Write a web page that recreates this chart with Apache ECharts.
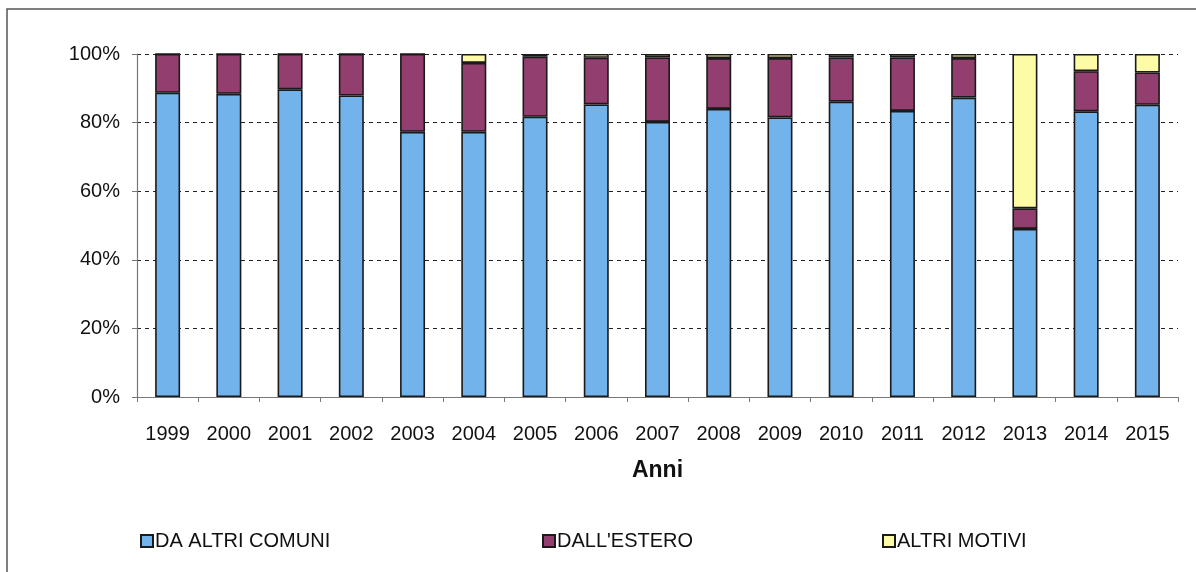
<!DOCTYPE html>
<html>
<head>
<meta charset="utf-8">
<script src="https://cdn.jsdelivr.net/npm/echarts@6/dist/echarts.min.js"></script>
<style>html,body{margin:0;padding:0;background:#fff;}#c{width:1196px;height:572px;}</style>
</head>
<body>
<div id="c"></div>
<script>
const years = ['1999','2000','2001','2002','2003','2004','2005','2006','2007','2008','2009','2010','2011','2012','2013','2014','2015'];
const daAltriComuni = [88.7, 88.4, 89.7, 87.9, 77.3, 77.3, 81.7, 85.3, 80.2, 84.0, 81.5, 86.1, 83.4, 87.3, 49.0, 83.3, 85.2];
const dallEstero    = [11.3, 11.6, 10.3, 12.1, 22.7, 20.1, 17.5, 13.6, 18.8, 14.8, 17.3, 12.9, 15.6, 11.5, 6.0, 11.7, 9.4];
const altriMotivi   = [0, 0, 0, 0, 0, 2.6, 0.8, 1.1, 1.0, 1.2, 1.2, 1.0, 1.0, 1.2, 45.0, 5.0, 5.4];
const yTicks = [0, 20, 40, 60, 80, 100];

const font = 'Liberation Sans, Arial, sans-serif';
const chart = echarts.init(document.getElementById('c'), null, {renderer: 'canvas'});
function bar(name, data, color) {
  return {
    name: name, type: 'bar', stack: 'tot', data: data, barWidth: 25,
    itemStyle: {color: color, borderColor: '#1a1a1a', borderWidth: 1.6},
    emphasis: {disabled: true}
  };
}
function legend(name, left) {
  return {
    data: [name], left: left, top: 526, itemWidth: 12, itemHeight: 12, itemGap: 0,
    icon: 'rect', selectedMode: false,
    textStyle: {fontFamily: font, fontSize: 20, color: '#111', padding: [0,0,0,-3]}
  };
}
chart.setOption({
  animation: false,
  backgroundColor: '#fff',
  graphic: [{
    type: 'rect', shape: {x: 7, y: 9, width: 1400, height: 800},
    style: {fill: 'none', stroke: '#555', lineWidth: 1.5}, silent: true, z: -1
  }],
  grid: {left: 137, right: 18, top: 54, bottom: 175, containLabel: false},
  legend: [
    legend('DA ALTRI COMUNI', 135),
    legend("DALL'ESTERO", 537),
    legend('ALTRI MOTIVI', 877)
  ],
  xAxis: {
    type: 'category', data: years, boundaryGap: true,
    name: 'Anni', nameLocation: 'middle', nameGap: 62,
    nameTextStyle: {fontFamily: font, fontSize: 23, fontWeight: 'bold', color: '#111'},
    axisLine: {lineStyle: {color: '#777', width: 1.2}},
    axisTick: {show: true, length: 5, lineStyle: {color: '#777'}},
    axisLabel: {fontFamily: font, fontSize: 20, color: '#111', margin: 27}
  },
  yAxis: {
    type: 'value', min: yTicks[0], max: yTicks[yTicks.length-1], interval: 20,
    axisLine: {show: true, lineStyle: {color: '#777', width: 1.2}},
    axisTick: {show: true, length: 5, lineStyle: {color: '#777'}},
    axisLabel: {fontFamily: font, fontSize: 20, color: '#111', margin: 17, formatter: '{value}%'},
    splitLine: {show: true, lineStyle: {color: '#222', type: [4, 4], width: 1}}
  },
  series: [
    bar('DA ALTRI COMUNI', daAltriComuni, '#72b3eb'),
    bar("DALL'ESTERO", dallEstero, '#923f70'),
    bar('ALTRI MOTIVI', altriMotivi, '#fdfba6')
  ]
});
</script>
</body>
</html>
